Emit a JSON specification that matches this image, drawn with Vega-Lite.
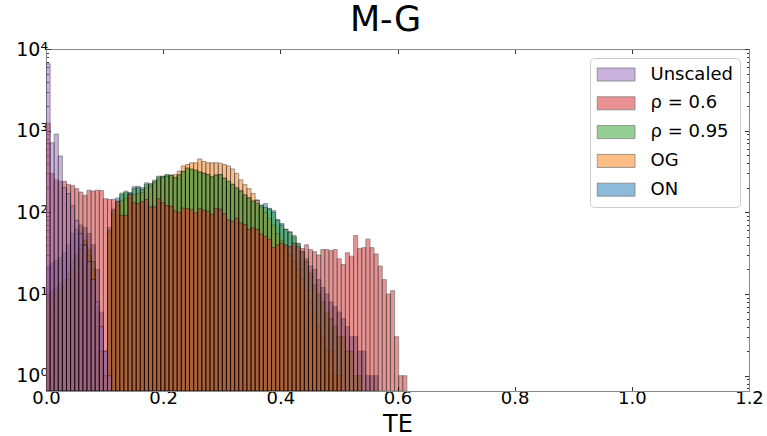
{
"$schema":"https://vega.github.io/schema/vega-lite/v6.json",
"width":703,"height":342,
"autosize":{"type":"none"},
"padding":{"left":46,"top":49,"right":18,"bottom":45},
"background":"white",
"config":{"font":"DejaVu Sans","view":{"stroke":null}},
"title":{"text":"M-G","fontSize":35,"fontWeight":"normal","font":"DejaVu Sans","anchor":"middle","frame":"group","baseline":"alphabetic","offset":10,"dy":35.5,"dx":-12,"color":"black"},
"data":{"values":[
{"s":"ON","a":0,"b":0.007,"v":22},{"s":"ON","a":0.007,"b":0.014,"v":24},{"s":"ON","a":0.014,"b":0.021,"v":26},{"s":"ON","a":0.021,"b":0.028,"v":28},{"s":"ON","a":0.028,"b":0.035,"v":32},{"s":"ON","a":0.035,"b":0.042,"v":40},{"s":"ON","a":0.042,"b":0.049,"v":55},{"s":"ON","a":0.049,"b":0.056,"v":62},{"s":"ON","a":0.056,"b":0.063,"v":70},{"s":"ON","a":0.063,"b":0.07,"v":65},{"s":"ON","a":0.07,"b":0.077,"v":55},{"s":"ON","a":0.077,"b":0.084,"v":40},{"s":"ON","a":0.084,"b":0.091,"v":20},{"s":"ON","a":0.091,"b":0.098,"v":6},{"s":"ON","a":0.098,"b":0.105,"v":2},{"s":"ON","a":0.105,"b":0.112,"v":65},{"s":"ON","a":0.112,"b":0.119,"v":110},{"s":"ON","a":0.119,"b":0.126,"v":150},{"s":"ON","a":0.126,"b":0.133,"v":165},{"s":"ON","a":0.133,"b":0.14,"v":175},{"s":"ON","a":0.14,"b":0.147,"v":175},{"s":"ON","a":0.147,"b":0.154,"v":206},{"s":"ON","a":0.154,"b":0.161,"v":208},{"s":"ON","a":0.161,"b":0.168,"v":200},{"s":"ON","a":0.168,"b":0.175,"v":220},{"s":"ON","a":0.175,"b":0.182,"v":220},{"s":"ON","a":0.182,"b":0.189,"v":240},{"s":"ON","a":0.189,"b":0.196,"v":270},{"s":"ON","a":0.196,"b":0.203,"v":275},{"s":"ON","a":0.203,"b":0.21,"v":285},{"s":"ON","a":0.21,"b":0.217,"v":280},{"s":"ON","a":0.217,"b":0.224,"v":270},{"s":"ON","a":0.224,"b":0.231,"v":285},{"s":"ON","a":0.231,"b":0.238,"v":320},{"s":"ON","a":0.238,"b":0.245,"v":345},{"s":"ON","a":0.245,"b":0.252,"v":335},{"s":"ON","a":0.252,"b":0.259,"v":325},{"s":"ON","a":0.259,"b":0.266,"v":315},{"s":"ON","a":0.266,"b":0.273,"v":305},{"s":"ON","a":0.273,"b":0.28,"v":292},{"s":"ON","a":0.28,"b":0.287,"v":275},{"s":"ON","a":0.287,"b":0.294,"v":288},{"s":"ON","a":0.294,"b":0.301,"v":292},{"s":"ON","a":0.301,"b":0.308,"v":265},{"s":"ON","a":0.308,"b":0.315,"v":240},{"s":"ON","a":0.315,"b":0.322,"v":222},{"s":"ON","a":0.322,"b":0.329,"v":200},{"s":"ON","a":0.329,"b":0.336,"v":185},{"s":"ON","a":0.336,"b":0.343,"v":165},{"s":"ON","a":0.343,"b":0.35,"v":152},{"s":"ON","a":0.35,"b":0.357,"v":140},{"s":"ON","a":0.357,"b":0.364,"v":142},{"s":"ON","a":0.364,"b":0.371,"v":122},{"s":"ON","a":0.371,"b":0.378,"v":128},{"s":"ON","a":0.378,"b":0.385,"v":112},{"s":"ON","a":0.385,"b":0.392,"v":105},{"s":"ON","a":0.392,"b":0.399,"v":82},{"s":"ON","a":0.399,"b":0.406,"v":73},{"s":"ON","a":0.406,"b":0.413,"v":62},{"s":"ON","a":0.413,"b":0.42,"v":58},{"s":"ON","a":0.42,"b":0.427,"v":50},{"s":"ON","a":0.427,"b":0.434,"v":41},{"s":"ON","a":0.434,"b":0.441,"v":33},{"s":"ON","a":0.441,"b":0.448,"v":27},{"s":"ON","a":0.448,"b":0.455,"v":22},{"s":"ON","a":0.455,"b":0.462,"v":20},{"s":"ON","a":0.462,"b":0.469,"v":15},{"s":"ON","a":0.469,"b":0.476,"v":12},{"s":"ON","a":0.476,"b":0.483,"v":10},{"s":"ON","a":0.483,"b":0.49,"v":8},{"s":"ON","a":0.49,"b":0.497,"v":7},{"s":"ON","a":0.497,"b":0.504,"v":6},{"s":"ON","a":0.504,"b":0.511,"v":5},{"s":"ON","a":0.511,"b":0.518,"v":4},{"s":"ON","a":0.518,"b":0.525,"v":3},{"s":"ON","a":0.525,"b":0.532,"v":3},{"s":"ON","a":0.532,"b":0.539,"v":2},{"s":"ON","a":0.539,"b":0.546,"v":2},{"s":"ON","a":0.546,"b":0.553,"v":1},{"s":"ON","a":0.553,"b":0.56,"v":1},{"s":"ON","a":0.56,"b":0.567,"v":1},
{"s":"OG","a":0,"b":0.007,"v":8},{"s":"OG","a":0.007,"b":0.014,"v":9},{"s":"OG","a":0.014,"b":0.021,"v":10},{"s":"OG","a":0.021,"b":0.028,"v":11},{"s":"OG","a":0.028,"b":0.035,"v":12},{"s":"OG","a":0.035,"b":0.042,"v":15},{"s":"OG","a":0.042,"b":0.049,"v":20},{"s":"OG","a":0.049,"b":0.056,"v":28},{"s":"OG","a":0.056,"b":0.063,"v":35},{"s":"OG","a":0.063,"b":0.07,"v":40},{"s":"OG","a":0.07,"b":0.077,"v":30},{"s":"OG","a":0.077,"b":0.084,"v":20},{"s":"OG","a":0.084,"b":0.091,"v":6},{"s":"OG","a":0.091,"b":0.098,"v":2},{"s":"OG","a":0.098,"b":0.105,"v":1},{"s":"OG","a":0.105,"b":0.112,"v":55},{"s":"OG","a":0.112,"b":0.119,"v":95},{"s":"OG","a":0.119,"b":0.126,"v":120},{"s":"OG","a":0.126,"b":0.133,"v":140},{"s":"OG","a":0.133,"b":0.14,"v":150},{"s":"OG","a":0.14,"b":0.147,"v":150},{"s":"OG","a":0.147,"b":0.154,"v":165},{"s":"OG","a":0.154,"b":0.161,"v":170},{"s":"OG","a":0.161,"b":0.168,"v":175},{"s":"OG","a":0.168,"b":0.175,"v":200},{"s":"OG","a":0.175,"b":0.182,"v":210},{"s":"OG","a":0.182,"b":0.189,"v":230},{"s":"OG","a":0.189,"b":0.196,"v":250},{"s":"OG","a":0.196,"b":0.203,"v":265},{"s":"OG","a":0.203,"b":0.21,"v":275},{"s":"OG","a":0.21,"b":0.217,"v":285},{"s":"OG","a":0.217,"b":0.224,"v":290},{"s":"OG","a":0.224,"b":0.231,"v":320},{"s":"OG","a":0.231,"b":0.238,"v":370},{"s":"OG","a":0.238,"b":0.245,"v":385},{"s":"OG","a":0.245,"b":0.252,"v":404},{"s":"OG","a":0.252,"b":0.259,"v":404},{"s":"OG","a":0.259,"b":0.266,"v":451},{"s":"OG","a":0.266,"b":0.273,"v":420},{"s":"OG","a":0.273,"b":0.28,"v":404},{"s":"OG","a":0.28,"b":0.287,"v":404},{"s":"OG","a":0.287,"b":0.294,"v":405},{"s":"OG","a":0.294,"b":0.301,"v":400},{"s":"OG","a":0.301,"b":0.308,"v":385},{"s":"OG","a":0.308,"b":0.315,"v":370},{"s":"OG","a":0.315,"b":0.322,"v":340},{"s":"OG","a":0.322,"b":0.329,"v":300},{"s":"OG","a":0.329,"b":0.336,"v":250},{"s":"OG","a":0.336,"b":0.343,"v":220},{"s":"OG","a":0.343,"b":0.35,"v":195},{"s":"OG","a":0.35,"b":0.357,"v":170},{"s":"OG","a":0.357,"b":0.364,"v":140},{"s":"OG","a":0.364,"b":0.371,"v":115},{"s":"OG","a":0.371,"b":0.378,"v":100},{"s":"OG","a":0.378,"b":0.385,"v":85},{"s":"OG","a":0.385,"b":0.392,"v":70},{"s":"OG","a":0.392,"b":0.399,"v":55},{"s":"OG","a":0.399,"b":0.406,"v":45},{"s":"OG","a":0.406,"b":0.413,"v":38},{"s":"OG","a":0.413,"b":0.42,"v":30},{"s":"OG","a":0.42,"b":0.427,"v":25},{"s":"OG","a":0.427,"b":0.434,"v":20},{"s":"OG","a":0.434,"b":0.441,"v":15},{"s":"OG","a":0.441,"b":0.448,"v":11},{"s":"OG","a":0.448,"b":0.455,"v":8},{"s":"OG","a":0.455,"b":0.462,"v":6},{"s":"OG","a":0.462,"b":0.469,"v":4},{"s":"OG","a":0.469,"b":0.476,"v":3},{"s":"OG","a":0.476,"b":0.483,"v":2},{"s":"OG","a":0.483,"b":0.49,"v":2},{"s":"OG","a":0.49,"b":0.497,"v":1},{"s":"OG","a":0.497,"b":0.504,"v":1},
{"s":"ρ = 0.95","a":0,"b":0.007,"v":10},{"s":"ρ = 0.95","a":0.007,"b":0.014,"v":11},{"s":"ρ = 0.95","a":0.014,"b":0.021,"v":12},{"s":"ρ = 0.95","a":0.021,"b":0.028,"v":13},{"s":"ρ = 0.95","a":0.028,"b":0.035,"v":15},{"s":"ρ = 0.95","a":0.035,"b":0.042,"v":18},{"s":"ρ = 0.95","a":0.042,"b":0.049,"v":25},{"s":"ρ = 0.95","a":0.049,"b":0.056,"v":30},{"s":"ρ = 0.95","a":0.056,"b":0.063,"v":40},{"s":"ρ = 0.95","a":0.063,"b":0.07,"v":45},{"s":"ρ = 0.95","a":0.07,"b":0.077,"v":35},{"s":"ρ = 0.95","a":0.077,"b":0.084,"v":25},{"s":"ρ = 0.95","a":0.084,"b":0.091,"v":7},{"s":"ρ = 0.95","a":0.091,"b":0.098,"v":2},{"s":"ρ = 0.95","a":0.098,"b":0.105,"v":1},{"s":"ρ = 0.95","a":0.105,"b":0.112,"v":60},{"s":"ρ = 0.95","a":0.112,"b":0.119,"v":105},{"s":"ρ = 0.95","a":0.119,"b":0.126,"v":135},{"s":"ρ = 0.95","a":0.126,"b":0.133,"v":172},{"s":"ρ = 0.95","a":0.133,"b":0.14,"v":182},{"s":"ρ = 0.95","a":0.14,"b":0.147,"v":170},{"s":"ρ = 0.95","a":0.147,"b":0.154,"v":195},{"s":"ρ = 0.95","a":0.154,"b":0.161,"v":200},{"s":"ρ = 0.95","a":0.161,"b":0.168,"v":190},{"s":"ρ = 0.95","a":0.168,"b":0.175,"v":230},{"s":"ρ = 0.95","a":0.175,"b":0.182,"v":225},{"s":"ρ = 0.95","a":0.182,"b":0.189,"v":248},{"s":"ρ = 0.95","a":0.189,"b":0.196,"v":277},{"s":"ρ = 0.95","a":0.196,"b":0.203,"v":277},{"s":"ρ = 0.95","a":0.203,"b":0.21,"v":290},{"s":"ρ = 0.95","a":0.21,"b":0.217,"v":285},{"s":"ρ = 0.95","a":0.217,"b":0.224,"v":265},{"s":"ρ = 0.95","a":0.224,"b":0.231,"v":290},{"s":"ρ = 0.95","a":0.231,"b":0.238,"v":316},{"s":"ρ = 0.95","a":0.238,"b":0.245,"v":350},{"s":"ρ = 0.95","a":0.245,"b":0.252,"v":340},{"s":"ρ = 0.95","a":0.252,"b":0.259,"v":330},{"s":"ρ = 0.95","a":0.259,"b":0.266,"v":310},{"s":"ρ = 0.95","a":0.266,"b":0.273,"v":300},{"s":"ρ = 0.95","a":0.273,"b":0.28,"v":290},{"s":"ρ = 0.95","a":0.28,"b":0.287,"v":270},{"s":"ρ = 0.95","a":0.287,"b":0.294,"v":285},{"s":"ρ = 0.95","a":0.294,"b":0.301,"v":290},{"s":"ρ = 0.95","a":0.301,"b":0.308,"v":260},{"s":"ρ = 0.95","a":0.308,"b":0.315,"v":240},{"s":"ρ = 0.95","a":0.315,"b":0.322,"v":220},{"s":"ρ = 0.95","a":0.322,"b":0.329,"v":198},{"s":"ρ = 0.95","a":0.329,"b":0.336,"v":182},{"s":"ρ = 0.95","a":0.336,"b":0.343,"v":162},{"s":"ρ = 0.95","a":0.343,"b":0.35,"v":150},{"s":"ρ = 0.95","a":0.35,"b":0.357,"v":136},{"s":"ρ = 0.95","a":0.357,"b":0.364,"v":128},{"s":"ρ = 0.95","a":0.364,"b":0.371,"v":122},{"s":"ρ = 0.95","a":0.371,"b":0.378,"v":115},{"s":"ρ = 0.95","a":0.378,"b":0.385,"v":110},{"s":"ρ = 0.95","a":0.385,"b":0.392,"v":100},{"s":"ρ = 0.95","a":0.392,"b":0.399,"v":80},{"s":"ρ = 0.95","a":0.399,"b":0.406,"v":70},{"s":"ρ = 0.95","a":0.406,"b":0.413,"v":62},{"s":"ρ = 0.95","a":0.413,"b":0.42,"v":57},{"s":"ρ = 0.95","a":0.42,"b":0.427,"v":52},{"s":"ρ = 0.95","a":0.427,"b":0.434,"v":42},{"s":"ρ = 0.95","a":0.434,"b":0.441,"v":33},{"s":"ρ = 0.95","a":0.441,"b":0.448,"v":25},{"s":"ρ = 0.95","a":0.448,"b":0.455,"v":18},{"s":"ρ = 0.95","a":0.455,"b":0.462,"v":13},{"s":"ρ = 0.95","a":0.462,"b":0.469,"v":10},{"s":"ρ = 0.95","a":0.469,"b":0.476,"v":8},{"s":"ρ = 0.95","a":0.476,"b":0.483,"v":6},{"s":"ρ = 0.95","a":0.483,"b":0.49,"v":5},{"s":"ρ = 0.95","a":0.49,"b":0.497,"v":4},{"s":"ρ = 0.95","a":0.497,"b":0.504,"v":3},{"s":"ρ = 0.95","a":0.504,"b":0.511,"v":3},{"s":"ρ = 0.95","a":0.511,"b":0.518,"v":2},{"s":"ρ = 0.95","a":0.518,"b":0.525,"v":2},{"s":"ρ = 0.95","a":0.525,"b":0.532,"v":1},{"s":"ρ = 0.95","a":0.532,"b":0.539,"v":1},
{"s":"ρ = 0.6","a":0,"b":0.007,"v":1240},{"s":"ρ = 0.6","a":0.007,"b":0.014,"v":300},{"s":"ρ = 0.6","a":0.014,"b":0.021,"v":250},{"s":"ρ = 0.6","a":0.021,"b":0.028,"v":240},{"s":"ρ = 0.6","a":0.028,"b":0.035,"v":240},{"s":"ρ = 0.6","a":0.035,"b":0.042,"v":220},{"s":"ρ = 0.6","a":0.042,"b":0.049,"v":213},{"s":"ρ = 0.6","a":0.049,"b":0.056,"v":195},{"s":"ρ = 0.6","a":0.056,"b":0.063,"v":177},{"s":"ρ = 0.6","a":0.063,"b":0.07,"v":162},{"s":"ρ = 0.6","a":0.07,"b":0.077,"v":187},{"s":"ρ = 0.6","a":0.077,"b":0.084,"v":182},{"s":"ρ = 0.6","a":0.084,"b":0.091,"v":187},{"s":"ρ = 0.6","a":0.091,"b":0.098,"v":185},{"s":"ρ = 0.6","a":0.098,"b":0.105,"v":147},{"s":"ρ = 0.6","a":0.105,"b":0.112,"v":144},{"s":"ρ = 0.6","a":0.112,"b":0.119,"v":144},{"s":"ρ = 0.6","a":0.119,"b":0.126,"v":137},{"s":"ρ = 0.6","a":0.126,"b":0.133,"v":92},{"s":"ρ = 0.6","a":0.133,"b":0.14,"v":92},{"s":"ρ = 0.6","a":0.14,"b":0.147,"v":166},{"s":"ρ = 0.6","a":0.147,"b":0.154,"v":131},{"s":"ρ = 0.6","a":0.154,"b":0.161,"v":128},{"s":"ρ = 0.6","a":0.161,"b":0.168,"v":135},{"s":"ρ = 0.6","a":0.168,"b":0.175,"v":144},{"s":"ρ = 0.6","a":0.175,"b":0.182,"v":117},{"s":"ρ = 0.6","a":0.182,"b":0.189,"v":117},{"s":"ρ = 0.6","a":0.189,"b":0.196,"v":147},{"s":"ρ = 0.6","a":0.196,"b":0.203,"v":131},{"s":"ρ = 0.6","a":0.203,"b":0.21,"v":121},{"s":"ρ = 0.6","a":0.21,"b":0.217,"v":119},{"s":"ρ = 0.6","a":0.217,"b":0.224,"v":104},{"s":"ρ = 0.6","a":0.224,"b":0.231,"v":100},{"s":"ρ = 0.6","a":0.231,"b":0.238,"v":113},{"s":"ρ = 0.6","a":0.238,"b":0.245,"v":111},{"s":"ρ = 0.6","a":0.245,"b":0.252,"v":109},{"s":"ρ = 0.6","a":0.252,"b":0.259,"v":98},{"s":"ρ = 0.6","a":0.259,"b":0.266,"v":111},{"s":"ρ = 0.6","a":0.266,"b":0.273,"v":106},{"s":"ρ = 0.6","a":0.273,"b":0.28,"v":103},{"s":"ρ = 0.6","a":0.28,"b":0.287,"v":94},{"s":"ρ = 0.6","a":0.287,"b":0.294,"v":111},{"s":"ρ = 0.6","a":0.294,"b":0.301,"v":109},{"s":"ρ = 0.6","a":0.301,"b":0.308,"v":96},{"s":"ρ = 0.6","a":0.308,"b":0.315,"v":81},{"s":"ρ = 0.6","a":0.315,"b":0.322,"v":78},{"s":"ρ = 0.6","a":0.322,"b":0.329,"v":85},{"s":"ρ = 0.6","a":0.329,"b":0.336,"v":74},{"s":"ρ = 0.6","a":0.336,"b":0.343,"v":71},{"s":"ρ = 0.6","a":0.343,"b":0.35,"v":62},{"s":"ρ = 0.6","a":0.35,"b":0.357,"v":65},{"s":"ρ = 0.6","a":0.357,"b":0.364,"v":62},{"s":"ρ = 0.6","a":0.364,"b":0.371,"v":54},{"s":"ρ = 0.6","a":0.371,"b":0.378,"v":51},{"s":"ρ = 0.6","a":0.378,"b":0.385,"v":47},{"s":"ρ = 0.6","a":0.385,"b":0.392,"v":37},{"s":"ρ = 0.6","a":0.392,"b":0.399,"v":40},{"s":"ρ = 0.6","a":0.399,"b":0.406,"v":42},{"s":"ρ = 0.6","a":0.406,"b":0.413,"v":40},{"s":"ρ = 0.6","a":0.413,"b":0.42,"v":38},{"s":"ρ = 0.6","a":0.42,"b":0.427,"v":42},{"s":"ρ = 0.6","a":0.427,"b":0.434,"v":38},{"s":"ρ = 0.6","a":0.434,"b":0.441,"v":36},{"s":"ρ = 0.6","a":0.441,"b":0.448,"v":40},{"s":"ρ = 0.6","a":0.448,"b":0.455,"v":35},{"s":"ρ = 0.6","a":0.455,"b":0.462,"v":33},{"s":"ρ = 0.6","a":0.462,"b":0.469,"v":30},{"s":"ρ = 0.6","a":0.469,"b":0.476,"v":35},{"s":"ρ = 0.6","a":0.476,"b":0.483,"v":35},{"s":"ρ = 0.6","a":0.483,"b":0.49,"v":34},{"s":"ρ = 0.6","a":0.49,"b":0.497,"v":35},{"s":"ρ = 0.6","a":0.497,"b":0.504,"v":27},{"s":"ρ = 0.6","a":0.504,"b":0.511,"v":23},{"s":"ρ = 0.6","a":0.511,"b":0.518,"v":32},{"s":"ρ = 0.6","a":0.518,"b":0.525,"v":29},{"s":"ρ = 0.6","a":0.525,"b":0.532,"v":52},{"s":"ρ = 0.6","a":0.532,"b":0.539,"v":36},{"s":"ρ = 0.6","a":0.539,"b":0.546,"v":37},{"s":"ρ = 0.6","a":0.546,"b":0.553,"v":47},{"s":"ρ = 0.6","a":0.553,"b":0.56,"v":37},{"s":"ρ = 0.6","a":0.56,"b":0.567,"v":31},{"s":"ρ = 0.6","a":0.567,"b":0.574,"v":22},{"s":"ρ = 0.6","a":0.574,"b":0.581,"v":15},{"s":"ρ = 0.6","a":0.581,"b":0.588,"v":10},{"s":"ρ = 0.6","a":0.588,"b":0.595,"v":11},{"s":"ρ = 0.6","a":0.595,"b":0.602,"v":3},{"s":"ρ = 0.6","a":0.602,"b":0.609,"v":1},{"s":"ρ = 0.6","a":0.609,"b":0.616,"v":1},
{"s":"Unscaled","a":0,"b":0.007,"v":6600},{"s":"Unscaled","a":0.007,"b":0.014,"v":710},{"s":"Unscaled","a":0.014,"b":0.021,"v":910},{"s":"Unscaled","a":0.021,"b":0.028,"v":490},{"s":"Unscaled","a":0.028,"b":0.035,"v":200},{"s":"Unscaled","a":0.035,"b":0.042,"v":170},{"s":"Unscaled","a":0.042,"b":0.049,"v":120},{"s":"Unscaled","a":0.049,"b":0.056,"v":80},{"s":"Unscaled","a":0.056,"b":0.063,"v":55},{"s":"Unscaled","a":0.063,"b":0.07,"v":40},{"s":"Unscaled","a":0.07,"b":0.077,"v":25},{"s":"Unscaled","a":0.077,"b":0.084,"v":15},{"s":"Unscaled","a":0.084,"b":0.091,"v":8},{"s":"Unscaled","a":0.091,"b":0.098,"v":4},{"s":"Unscaled","a":0.098,"b":0.105,"v":2},{"s":"Unscaled","a":0.105,"b":0.112,"v":1}
]},
"layer":[
{"mark":{"type":"bar","opacity":0.5,"stroke":"black","strokeWidth":0.8,"clip":true},
"encoding":{
"x":{"field":"a","type":"quantitative","scale":{"domain":[0,1.2],"nice":false,"zero":false},
"axis":{"orient":"bottom","values":[0,0.2,0.4,0.6,0.8,1.0,1.2],"format":".1f","labelFontSize":18,"labelColor":"black","labelFont":"DejaVu Sans","tickSize":-4.5,"tickColor":"#333","domainColor":"#8a8a8a","labelPadding":3,"grid":false,"title":"TE","titleFontSize":24,"titleFontWeight":"normal","titleColor":"black","titleFont":"DejaVu Sans","titleBaseline":"alphabetic","titleY":40,"labelFlush":false}},
"x2":{"field":"b"},
"y":{"field":"v","type":"quantitative","scale":{"type":"log","domain":[0.65,10000],"nice":false},
"axis":{"orient":"left","title":null,"values":[0.7,0.8,0.9,1,2,3,4,5,6,7,8,9,10,20,30,40,50,60,70,80,90,100,200,300,400,500,600,700,800,900,1000,2000,3000,4000,5000,6000,7000,8000,9000,10000],
"labelExpr":"datum.value==1?'10⁰':datum.value==10?'10¹':datum.value==100?'10²':datum.value==1000?'10³':datum.value==10000?'10⁴':''",
"labelOverlap":false,"labelFontSize":19,"labelColor":"black","labelFont":"DejaVu Sans","labelPadding":3,
"tickSize":{"condition":{"test":"indexof([1,10,100,1000,10000],datum.value)>=0","value":-4.5},"value":-2.5},
"tickColor":"#333","domainColor":"#8a8a8a","grid":false,"labelFlush":false}},
"y2":{"datum":0.65},
"color":{"field":"s","type":"nominal","scale":{"domain":["Unscaled","ρ = 0.6","ρ = 0.95","OG","ON"],"range":["#9467bd","#d62728","#2ca02c","#ff7f0e","#1f77b4"]},
"legend":{"orient":"top-right","offset":9,"title":null,"symbolType":"M-1,-0.342H1V0.342H-1Z","symbolSize":1444,"symbolOpacity":0.5,"symbolStrokeColor":"black","symbolStrokeWidth":0.8,"labelFontSize":18,"labelFont":"DejaVu Sans","labelColor":"black","labelOffset":15,"clipHeight":20,"rowPadding":8.8,"padding":6.5,"strokeColor":"#cccccc","fillColor":"white","cornerRadius":4,"labelLimit":300}}
}},
{"mark":{"type":"point","opacity":0},
"encoding":{
"x":{"field":"a","type":"quantitative","scale":{"domain":[0,1.2],"nice":false,"zero":false},
"axis":{"orient":"top","values":[0,0.2,0.4,0.6,0.8,1.0,1.2],"labels":false,"title":null,"tickSize":-4.5,"tickColor":"#333","domainColor":"#8a8a8a","grid":false,"minExtent":0,"maxExtent":0,"labelPadding":0,"titlePadding":0}},
"y":{"field":"v","type":"quantitative","scale":{"type":"log","domain":[0.65,10000],"nice":false},
"axis":{"orient":"right","title":null,"labels":false,"values":[0.7,0.8,0.9,1,2,3,4,5,6,7,8,9,10,20,30,40,50,60,70,80,90,100,200,300,400,500,600,700,800,900,1000,2000,3000,4000,5000,6000,7000,8000,9000,10000],
"tickSize":{"condition":{"test":"indexof([1,10,100,1000,10000],datum.value)>=0","value":-4.5},"value":-2.5},
"tickColor":"#333","domainColor":"#8a8a8a","grid":false,"minExtent":0,"maxExtent":0}}
}}
],
"resolve":{"axis":{"x":"independent","y":"independent"}}
}
